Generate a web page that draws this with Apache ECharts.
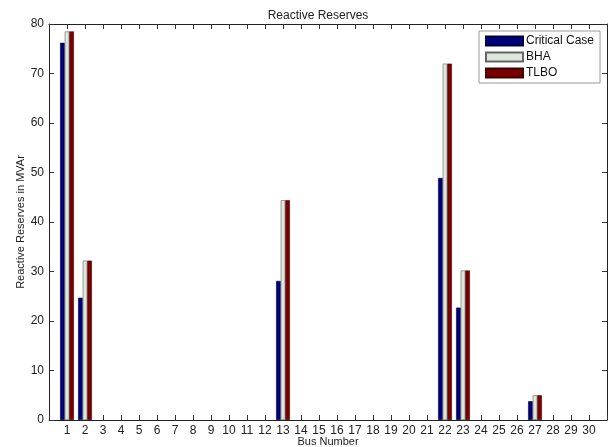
<!DOCTYPE html>
<html><head><meta charset="utf-8">
<script src="https://cdn.jsdelivr.net/npm/echarts@6/dist/echarts.min.js"></script>
<style>html,body{margin:0;padding:0;background:#fff}#c{width:612px;height:447px}</style>
</head><body><div id="c"></div>
<script>
const buses = Array.from({length:30},(_,i)=>i+1);
const criticalCase = [76.2,24.7,0,0,0,0,0,0,0,0,0,0,28.1,0,0,0,0,0,0,0,0,48.9,22.7,0,0,0,3.8,0,0,0];
const bha =          [78.5,32.2,0,0,0,0,0,0,0,0,0,0,44.4,0,0,0,0,0,0,0,0,72.0,30.2,0,0,0,5.0,0,0,0];
const tlbo =         [78.5,32.2,0,0,0,0,0,0,0,0,0,0,44.4,0,0,0,0,0,0,0,0,72.0,30.2,0,0,0,5.0,0,0,0];
const seriesNames = ['Critical Case','BHA','TLBO'];
const yTicks = [0,10,20,30,40,50,60,70,80];

const font = 'Liberation Sans, Arial, sans-serif';
const chart = echarts.init(document.getElementById('c'));
const pairs = arr => buses.map((b,i)=>[b, arr[i] === 0 ? null : arr[i]]);
function xAx(pos, labels){
  return {
    type:'value', min:0, max:31, interval:1, position:pos,
    axisLine:{show:true,onZero:false,lineStyle:{color:'#222',width:1}},
    axisTick:{show:true,inside:true,length:5,lineStyle:{color:'#333'}},
    splitLine:{show:false},
    axisLabel: labels ? {fontFamily:font,fontSize:12,color:'#222',margin:5,
        formatter:v=>(v>=1&&v<=30)?String(v):''} : {show:false}
  };
}
function yAx(pos, labels){
  return {
    type:'value', min:yTicks[0], max:yTicks[yTicks.length-1], interval:10, position:pos,
    axisLine:{show:true,onZero:false,lineStyle:{color:'#222',width:1}},
    axisTick:{show:true,inside:true,length:5,lineStyle:{color:'#333'}},
    splitLine:{show:false},
    axisLabel: labels ? {fontFamily:font,fontSize:12,color:'#222',margin:5} : {show:false}
  };
}
const colors = ['#000078','#dde7dc','#780000'];
const borders = ['#000040','#666666','#400000'];
const xb = xAx('bottom', true);
Object.assign(xb,{name:'Bus Number',nameLocation:'middle',nameGap:16,nameMoveOverlap:false,
  nameTextStyle:{fontFamily:font,fontSize:11,color:'#222'}});
const yl = yAx('left', true);
Object.assign(yl,{name:'Reactive Reserves in MVAr',nameLocation:'middle',nameGap:23,nameMoveOverlap:false,
  nameTextStyle:{fontFamily:font,fontSize:11,color:'#222'}});
chart.setOption({
  animation:false,
  backgroundColor:'#fff',
  title:{text:'Reactive Reserves',left:313,top:5,textAlign:'center',
    textStyle:{fontFamily:font,fontSize:12,fontWeight:'normal',color:'#222'}},
  grid:{left:49,right:5,top:24,bottom:27,containLabel:false,outerBoundsMode:'none'},
  legend:{data:seriesNames,left:479,top:31,orient:'vertical',
    itemWidth:37,itemHeight:9,itemGap:4,padding:[4,6,4,6],
    backgroundColor:'#fff',borderColor:'#999',borderWidth:1,
    textStyle:{fontFamily:font,fontSize:12,color:'#111',padding:[0,0,0,-2]},
    icon:'rect'},
  xAxis:[xb, xAx('top', false)],
  yAxis:[yl, yAx('right', false)],
  series:[criticalCase,bha,tlbo].map((arr,i)=>({
    name:seriesNames[i], type:'bar', xAxisIndex:0, yAxisIndex:0,
    data:pairs(arr), barWidth:4.6, barGap:'0%',
    itemStyle:{color:colors[i],borderColor:borders[i],borderWidth:0.6}
  }))
});
</script></body></html>
